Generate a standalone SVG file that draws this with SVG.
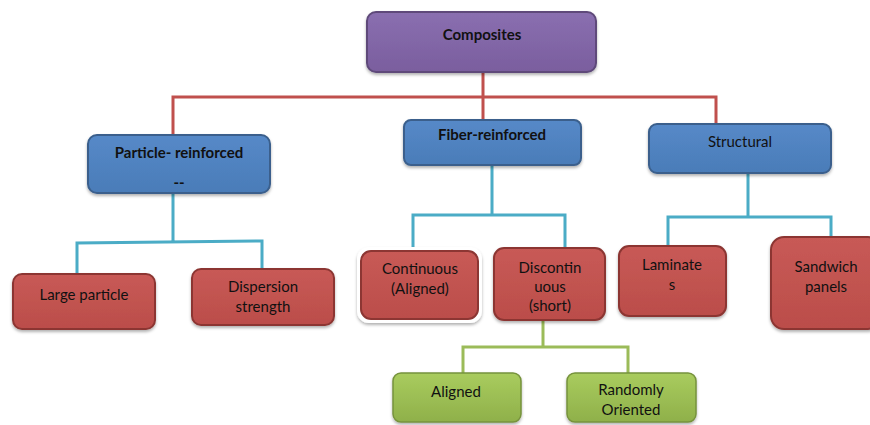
<svg xmlns="http://www.w3.org/2000/svg" width="870" height="425" viewBox="0 0 870 425">
<defs>
<linearGradient id="gP" x1="0" y1="0" x2="0" y2="1"><stop offset="0" stop-color="#8a6fb0"/><stop offset="1" stop-color="#7a5e9e"/></linearGradient>
<linearGradient id="gB" x1="0" y1="0" x2="0" y2="1"><stop offset="0" stop-color="#5689c8"/><stop offset="1" stop-color="#4a7cb8"/></linearGradient>
<linearGradient id="gR" x1="0" y1="0" x2="0" y2="1"><stop offset="0" stop-color="#c85a56"/><stop offset="1" stop-color="#bb4d4a"/></linearGradient>
<linearGradient id="gG" x1="0" y1="0" x2="0" y2="1"><stop offset="0" stop-color="#a9cc5e"/><stop offset="1" stop-color="#8fb04a"/></linearGradient>
<filter id="sh" x="-10%" y="-10%" width="130%" height="140%"><feDropShadow dx="0" dy="2" stdDeviation="1.5" flood-color="#000" flood-opacity="0.3"/></filter>
</defs>
<style>
.t{font-family:Lato,"Open Sans",sans-serif;font-size:15px;fill:#111;text-anchor:middle}
.b{font-weight:bold}
.p{fill:url(#gP);stroke:#5e4a7a;stroke-width:2}
.bl{fill:url(#gB);stroke:#3a5f8c;stroke-width:2}
.r{fill:url(#gR);stroke:#8c3633;stroke-width:2}
.g{fill:url(#gG);stroke:#76923c;stroke-width:1.5}
.cr{fill:none;stroke:#c0504d;stroke-width:3}
.cb{fill:none;stroke:#4bacc6;stroke-width:3}
.cg{fill:none;stroke:#9bbb59;stroke-width:3}
</style>
<rect width="870" height="425" fill="#fff"/>
<g id="connectors">
<path class="cr" d="M483 72V120M173 135V97H716V124"/>
<path class="cb" d="M173 193V242M77 274V243L262 241V269"/>
<path class="cb" d="M492 165V215M413 248V215H565V248"/>
<path class="cb" d="M748 173V217M668 246V217H831V237"/>
<path class="cg" d="M543 320V347M463 373V347H628V373"/>
</g>
<g id="composites"><rect class="p" x="367" y="12" width="229" height="60" rx="9" filter="url(#sh)"/><text class="t b" x="482" y="40">Composites</text></g>
<g id="particle"><rect class="bl" x="88" y="135" width="182" height="58" rx="9" filter="url(#sh)"/><text class="t b" x="179" y="158">Particle- reinforced</text><text class="t b" x="179" y="188">--</text></g>
<g id="fiber"><rect class="bl" x="404" y="120" width="177" height="45" rx="7" filter="url(#sh)"/><text class="t b" x="492" y="140">Fiber-reinforced</text></g>
<g id="structural"><rect class="bl" x="649" y="124" width="182" height="49" rx="8" filter="url(#sh)"/><text class="t" x="740" y="147">Structural</text></g>
<g id="large"><rect class="r" x="13" y="274" width="142" height="55" rx="9" filter="url(#sh)"/><text class="t" x="84" y="300">Large particle</text></g>
<g id="dispersion"><rect class="r" x="192" y="269" width="142" height="56" rx="9" filter="url(#sh)"/><text class="t" x="263" y="292">Dispersion</text><text class="t" x="263" y="312">strength</text></g>
<g id="continuous"><rect x="357" y="247" width="125" height="76" rx="12" fill="#fff" filter="url(#sh)"/><rect class="r" x="361" y="251" width="117" height="68" rx="10" stroke="none"/><text class="t" x="420" y="274">Continuous</text><text class="t" x="420" y="294">(Aligned)</text></g>
<g id="discontinuous"><rect class="r" x="494" y="248" width="111" height="72" rx="10" filter="url(#sh)"/><text class="t" x="550" y="273">Discontin</text><text class="t" x="550" y="292">uous</text><text class="t" x="550" y="311">(short)</text></g>
<g id="laminates"><rect class="r" x="619" y="246" width="107" height="70" rx="10" filter="url(#sh)"/><text class="t" x="672" y="270">Laminate</text><text class="t" x="672" y="290">s</text></g>
<g id="sandwich"><rect class="r" x="771" y="237" width="110" height="92" rx="13" filter="url(#sh)"/><text class="t" x="826" y="272">Sandwich</text><text class="t" x="826" y="292">panels</text></g>
<g id="aligned"><rect class="g" x="393" y="373" width="128" height="49" rx="8" filter="url(#sh)"/><text class="t" x="456" y="397">Aligned</text></g>
<g id="randomly"><rect class="g" x="567" y="373" width="129" height="49" rx="8" filter="url(#sh)"/><text class="t" x="631" y="395">Randomly</text><text class="t" x="631" y="415">Oriented</text></g>
</svg>
